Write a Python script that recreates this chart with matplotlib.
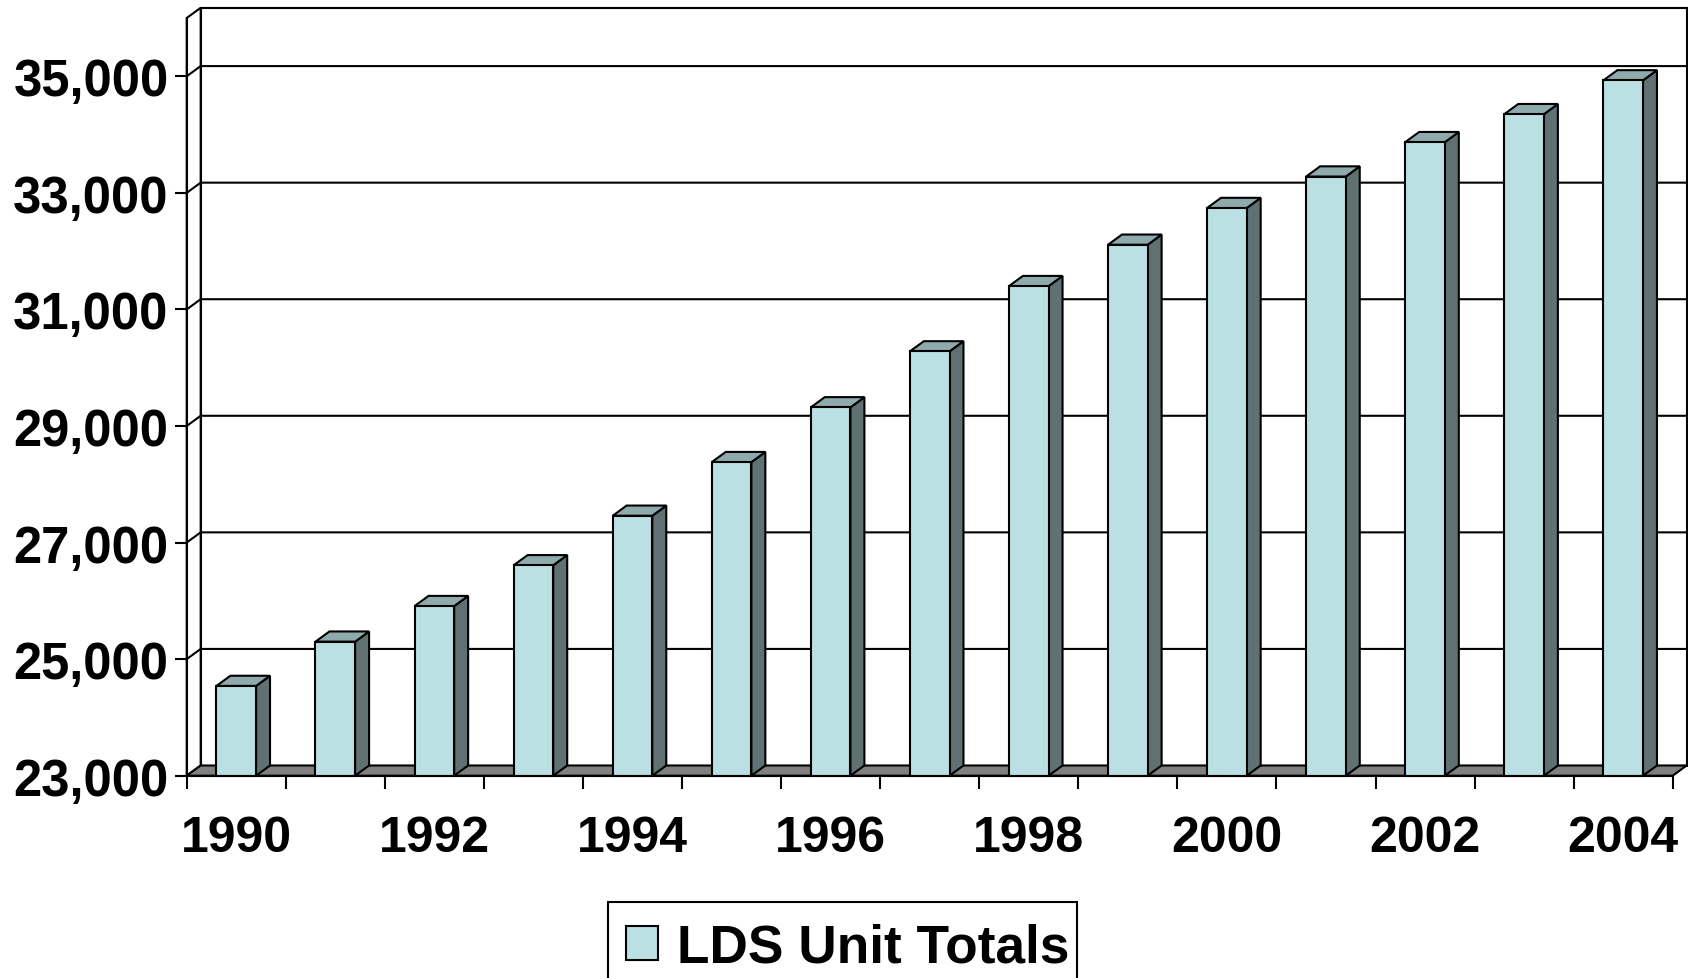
import matplotlib.pyplot as plt
import numpy as np
from matplotlib.patches import Polygon, Patch, Rectangle

# data
years = list(range(1990, 2005))
totals = [24540, 25300, 25910, 26610, 27460, 28380, 29320, 30280,
          31400, 32110, 32740, 33280, 33870, 34350, 34930]
y_ticks = list(range(23000, 35001, 2000))
series_name = 'LDS Unit Totals'

front_c = '#BBE0E3'
side_c = '#5F7173'
top_c = '#8FAAAD'
floor_c = '#808080'

plt.rcParams['font.family'] = ['Liberation Sans', 'DejaVu Sans']
plt.rcParams['font.weight'] = 'bold'

fig = plt.figure(figsize=(16.88, 9.79), dpi=100)
ax = fig.add_axes([186.7/1688, 1-776.7/979, (1672.7-186.7)/1688, (776.7-19)/979])

ymin, ymax = 23000, 36000
n = len(years)
x = np.arange(n)
ax.set_xlim(-0.5, n-0.5)
ax.set_ylim(ymin, ymax)

# fake 3d depth in data units
dx, dy = 0.141, 175
lw = 1.5

# back wall and left side wall
back = Polygon([(-0.5+dx, ymin+dy), (n-0.5+dx, ymin+dy), (n-0.5+dx, ymax+dy), (-0.5+dx, ymax+dy)],
               closed=True, fc='white', ec='black', lw=lw, clip_on=False, zorder=1)
ax.add_patch(back)
side = Polygon([(-0.5, ymin), (-0.5+dx, ymin+dy), (-0.5+dx, ymax+dy), (-0.5, ymax)],
               closed=True, fc='white', ec='black', lw=lw, clip_on=False, zorder=1)
ax.add_patch(side)

# gridlines on walls
for t in y_ticks[1:]:
    ax.plot([-0.5, -0.5+dx, n-0.5+dx], [t, t+dy, t+dy], color='black', lw=lw,
            clip_on=False, zorder=2, solid_joinstyle='miter')

# floor
floor = Polygon([(-0.5, ymin), (n-0.5, ymin), (n-0.5+dx, ymin+dy), (-0.5+dx, ymin+dy)],
                closed=True, fc=floor_c, ec='black', lw=lw, clip_on=False, zorder=3)
ax.add_patch(floor)

# bars
w = 0.4
ax.bar(x, np.array(totals) - ymin, bottom=ymin, width=w, color=front_c,
       edgecolor='black', linewidth=lw, zorder=5, clip_on=False)
for xi, v in zip(x, totals):
    r = xi + w/2
    l = xi - w/2
    ax.add_patch(Polygon([(r, ymin), (r+dx, ymin+dy), (r+dx, v+dy), (r, v)], closed=True,
                         fc=side_c, ec='black', lw=lw, zorder=4, clip_on=False))
    ax.add_patch(Polygon([(l, v), (r, v), (r+dx, v+dy), (l+dx, v+dy)], closed=True,
                         fc=top_c, ec='black', lw=lw, zorder=4, clip_on=False))

for s in ['top', 'right']:
    ax.spines[s].set_visible(False)
for s in ['left', 'bottom']:
    ax.spines[s].set_linewidth(lw)
    ax.spines[s].set_zorder(6)
ax.patch.set_visible(False)

ax.set_yticks(y_ticks)
ax.set_yticklabels([f'{t:,}' for t in y_ticks])
ax.tick_params(axis='y', length=9, width=lw, pad=4, labelsize=36.5)

ax.set_xticks(np.arange(-0.5, n, 1))
ax.set_xticklabels([])
ax.tick_params(axis='x', which='major', length=9, width=lw)
ax.set_xticks(x[::2], minor=True)
ax.set_xticklabels([str(y) for y in years[::2]], minor=True)
ax.tick_params(axis='x', which='minor', length=0, pad=28, labelsize=36)

# legend, frame drawn separately so it runs off the bottom edge
handle = Patch(fc=front_c, ec='black', lw=lw)
leg = fig.legend([handle], [series_name], loc='upper left',
                 bbox_to_anchor=(625.7/1688, 1-924/979), borderaxespad=0,
                 fontsize=38.3, borderpad=0, handlelength=0.6, handleheight=0.6,
                 handletextpad=0.37, frameon=False)
fig.patches.append(Rectangle((608/1688, -0.05), (1077-608)/1688, (979-902.7)/979 + 0.05,
                             transform=fig.transFigure, fill=False, ec='black', lw=lw))

fig.savefig('out.png', dpi=100)
